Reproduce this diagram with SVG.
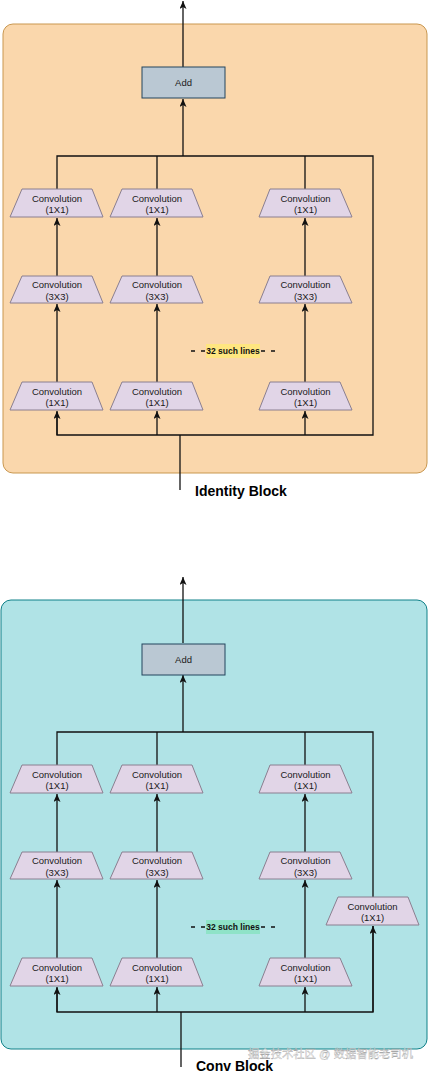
<svg xmlns="http://www.w3.org/2000/svg" width="428" height="1076" viewBox="0 0 428 1076">
<style>
.conv{fill:#e1d5e7;stroke:#8a7f90;stroke-width:1}
.add{fill:#bac8d3;stroke:#23445d;stroke-width:1}
.t{font-family:"Liberation Sans",Arial,sans-serif;font-size:9.5px;fill:#1a1a1a;text-anchor:middle}
.lbl{font-family:"Liberation Sans",Arial,sans-serif;font-size:8.5px;font-weight:bold;fill:#111;text-anchor:middle}
.title{font-family:"Liberation Sans",Arial,sans-serif;font-size:14px;font-weight:bold;fill:#000}
.ln{fill:none;stroke:#111;stroke-width:1.3}
.arr{fill:none;stroke:#111;stroke-width:1.3;marker-end:url(#ah)}
.dash{fill:none;stroke:#111;stroke-width:1.3;stroke-dasharray:4 6}
</style>
<defs>
<marker id="ah" markerUnits="userSpaceOnUse" markerWidth="9" markerHeight="9" refX="8" refY="3.5" orient="auto">
<path d="M0,0 L8,3.5 L0,7 L2,3.5 z" fill="#111"/>
</marker>
</defs>

<g id="identity-block">
<rect x="3" y="24" width="424" height="449" rx="10" fill="#fad7ac" stroke="#c9974f" stroke-width="1"/>
</g>
<g id="conv-block">
<rect x="1" y="600" width="426" height="449" rx="10" fill="#b0e3e6" stroke="#0e8088" stroke-width="1"/>
</g>

<g id="connectors">
<!-- identity -->
<path class="arr" d="M183,67 V1"/>
<path class="arr" d="M183,156 V99"/>
<path class="ln" d="M57,189 V156 H373 V435 H57 V412"/>
<path class="ln" d="M157,189 V156 M305,189 V156"/>
<path class="arr" d="M57,435 V411"/>
<path class="arr" d="M157,435 V411"/>
<path class="arr" d="M305,435 V411"/>
<path class="ln" d="M180,435 V490"/>
<path class="arr" d="M57,382 V304"/>
<path class="arr" d="M157,382 V304"/>
<path class="arr" d="M305,382 V304"/>
<path class="arr" d="M57,276 V218"/>
<path class="arr" d="M157,276 V218"/>
<path class="arr" d="M305,276 V218"/>
<path class="dash" d="M191,351 H281"/>
<!-- conv -->
<path class="arr" d="M183,643 V577"/>
<path class="arr" d="M183,732 V675"/>
<path class="ln" d="M57,765 V732 H373 V897"/>
<path class="ln" d="M157,765 V732 M305,765 V732"/>
<path class="ln" d="M57,988 V1012 H373 V926"/>
<path class="arr" d="M57,1012 V987"/>
<path class="arr" d="M157,1012 V987"/>
<path class="arr" d="M305,1012 V987"/>
<path class="arr" d="M373,1012 V926"/>
<path class="ln" d="M181,1012 V1067"/>
<path class="arr" d="M57,958 V880"/>
<path class="arr" d="M157,958 V880"/>
<path class="arr" d="M305,958 V880"/>
<path class="arr" d="M57,852 V794"/>
<path class="arr" d="M157,852 V794"/>
<path class="arr" d="M305,852 V794"/>
<path class="dash" d="M191,927 H281"/>
</g>

<g id="id-add"><rect class="add" x="142" y="67" width="83" height="31"/><text class="t" x="183.5" y="86">Add</text></g>
<g id="id-c11"><path class="conv" d="M22,189 H92 L103,217 H10 Z"/><text class="t" x="57" y="201.5">Convolution</text><text class="t" x="57" y="213">(1X1)</text></g>
<g id="id-c12"><path class="conv" d="M122,189 H192 L203,217 H110 Z"/><text class="t" x="157" y="201.5">Convolution</text><text class="t" x="157" y="213">(1X1)</text></g>
<g id="id-c13"><path class="conv" d="M270,189 H340 L352,217 H259 Z"/><text class="t" x="305.5" y="201.5">Convolution</text><text class="t" x="305.5" y="213">(1X1)</text></g>
<g id="id-c21"><path class="conv" d="M22,276 H92 L103,303 H10 Z"/><text class="t" x="57" y="288">Convolution</text><text class="t" x="57" y="299.5">(3X3)</text></g>
<g id="id-c22"><path class="conv" d="M122,276 H192 L203,303 H110 Z"/><text class="t" x="157" y="288">Convolution</text><text class="t" x="157" y="299.5">(3X3)</text></g>
<g id="id-c23"><path class="conv" d="M270,276 H340 L352,303 H259 Z"/><text class="t" x="305.5" y="288">Convolution</text><text class="t" x="305.5" y="299.5">(3X3)</text></g>
<g id="id-c31"><path class="conv" d="M22,382 H92 L103,410 H10 Z"/><text class="t" x="57" y="394.5">Convolution</text><text class="t" x="57" y="406">(1X1)</text></g>
<g id="id-c32"><path class="conv" d="M122,382 H192 L203,410 H110 Z"/><text class="t" x="157" y="394.5">Convolution</text><text class="t" x="157" y="406">(1X1)</text></g>
<g id="id-c33"><path class="conv" d="M270,382 H340 L352,410 H259 Z"/><text class="t" x="305.5" y="394.5">Convolution</text><text class="t" x="305.5" y="406">(1X1)</text></g>
<g id="id-label"><rect x="206" y="344" width="54" height="14" fill="#ffe680"/><text class="lbl" x="233" y="354">32 such lines</text></g>
<g id="id-title"><text class="title" x="195" y="496">Identity Block</text></g>

<g id="cv-add"><rect class="add" x="142" y="644" width="83" height="31"/><text class="t" x="183.5" y="662.5">Add</text></g>
<g id="cv-c11"><path class="conv" d="M22,765 H92 L103,793 H10 Z"/><text class="t" x="57" y="777.5">Convolution</text><text class="t" x="57" y="789">(1X1)</text></g>
<g id="cv-c12"><path class="conv" d="M122,765 H192 L203,793 H110 Z"/><text class="t" x="157" y="777.5">Convolution</text><text class="t" x="157" y="789">(1X1)</text></g>
<g id="cv-c13"><path class="conv" d="M270,765 H340 L352,793 H259 Z"/><text class="t" x="305.5" y="777.5">Convolution</text><text class="t" x="305.5" y="789">(1X1)</text></g>
<g id="cv-c21"><path class="conv" d="M22,852 H92 L103,879 H10 Z"/><text class="t" x="57" y="864">Convolution</text><text class="t" x="57" y="875.5">(3X3)</text></g>
<g id="cv-c22"><path class="conv" d="M122,852 H192 L203,879 H110 Z"/><text class="t" x="157" y="864">Convolution</text><text class="t" x="157" y="875.5">(3X3)</text></g>
<g id="cv-c23"><path class="conv" d="M270,852 H340 L352,879 H259 Z"/><text class="t" x="305.5" y="864">Convolution</text><text class="t" x="305.5" y="875.5">(3X3)</text></g>
<g id="cv-c31"><path class="conv" d="M22,958 H92 L103,986 H10 Z"/><text class="t" x="57" y="970.5">Convolution</text><text class="t" x="57" y="982">(1X1)</text></g>
<g id="cv-c32"><path class="conv" d="M122,958 H192 L203,986 H110 Z"/><text class="t" x="157" y="970.5">Convolution</text><text class="t" x="157" y="982">(1X1)</text></g>
<g id="cv-c33"><path class="conv" d="M270,958 H340 L352,986 H259 Z"/><text class="t" x="305.5" y="970.5">Convolution</text><text class="t" x="305.5" y="982">(1X1)</text></g>
<g id="cv-short"><path class="conv" d="M338,897 H408 L419,925 H326 Z"/><text class="t" x="372.5" y="909.5">Convolution</text><text class="t" x="372.5" y="921">(1X1)</text></g>
<g id="cv-label"><rect x="206" y="920" width="54" height="14" fill="#8fe3c8"/><text class="lbl" x="233" y="930">32 such lines</text></g>
<g id="cv-title"><text class="title" x="196" y="1071">Conv Block</text></g>
<g id="watermark"><text x="248" y="1057.5" font-family="'Liberation Sans','Noto Sans CJK SC',sans-serif" font-size="11" textLength="165" lengthAdjust="spacingAndGlyphs" fill="#ffffff" fill-opacity="0.75" stroke="#999" stroke-width="0.3">掘金技术社区 @ 数据智能老司机</text></g>
</svg>
